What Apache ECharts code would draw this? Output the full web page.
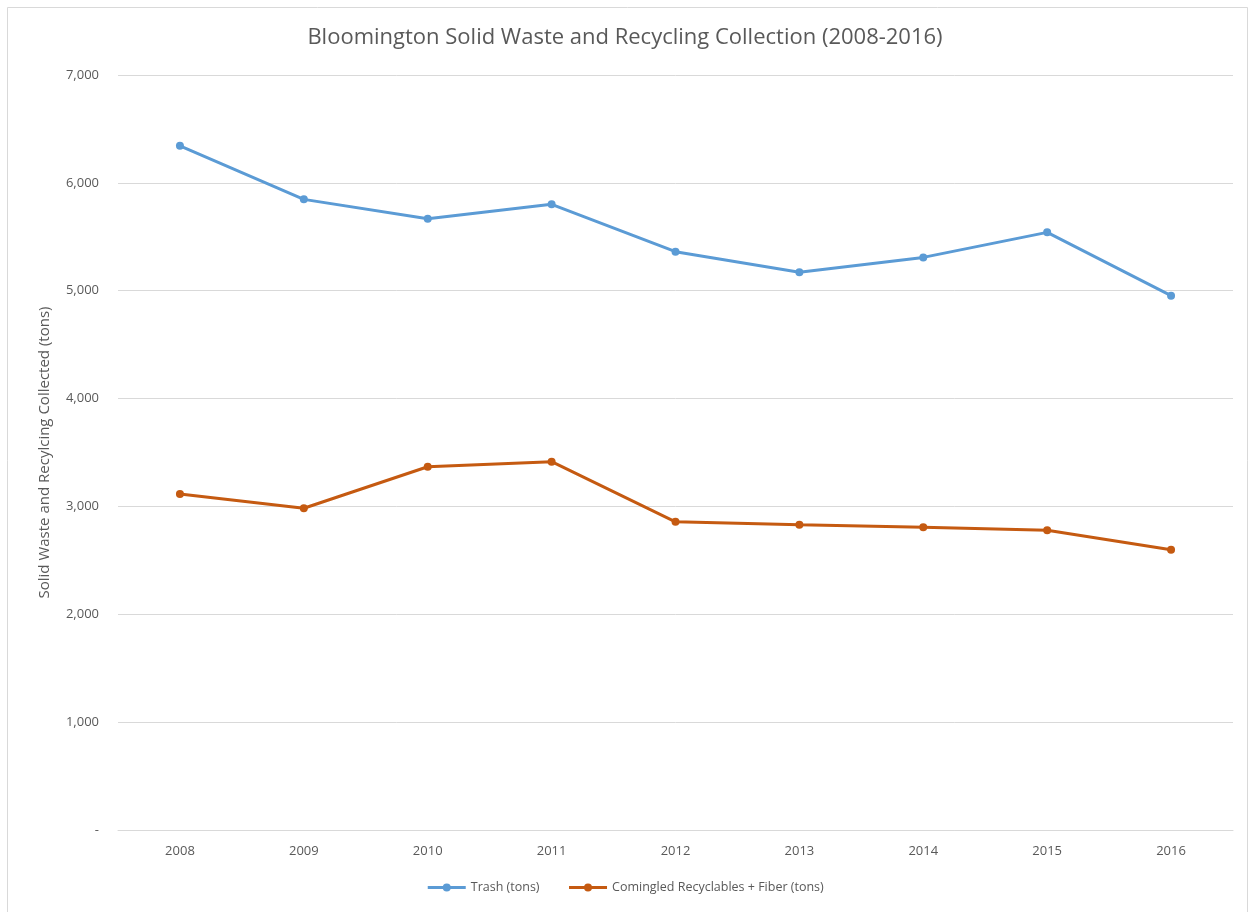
<!DOCTYPE html>
<html>
<head>
<meta charset="utf-8">
<script src="https://cdn.jsdelivr.net/npm/echarts@6/dist/echarts.min.js"></script>
<style>
  html, body { margin: 0; padding: 0; background: #ffffff; }
  #chart { width: 1250px; height: 912px; }
</style>
</head>
<body>
<div id="chart"></div>
<script>
// Annual collection totals, City of Bloomington
const years = ['2008', '2009', '2010', '2011', '2012', '2013', '2014', '2015', '2016'];
const trashTons = [6344, 5847, 5668, 5801, 5362, 5171, 5309, 5541, 4954];
const recyclingTons = [3115, 2983, 3368, 3415, 2857, 2831, 2806, 2779, 2599];
const seriesNames = ['Trash (tons)', 'Comingled Recyclables + Fiber (tons)'];

const textColor = '#595959';
const lineColor = '#d9d9d9';
const fontFamily = '"Open Sans", "Noto Sans", sans-serif';

const chart = echarts.init(document.getElementById('chart'), null, { renderer: 'canvas' });

function fmt(v) {
  if (v === 0) return '-';
  return v.toLocaleString('en-US');
}

chart.setOption({
  backgroundColor: '#ffffff',
  animation: false,
  textStyle: { fontFamily: fontFamily },
  graphic: [{
    type: 'rect',
    shape: { x: 7.5, y: 7.5, width: 1240, height: 920 },
    style: { fill: 'none', stroke: lineColor, lineWidth: 1 },
    silent: true
  }],
  title: {
    text: 'Bloomington Solid Waste and Recycling Collection (2008-2016)',
    left: 'center',
    top: 22,
    textStyle: { color: textColor, fontSize: 22, fontWeight: 'normal', fontFamily: fontFamily }
  },
  legend: {
    bottom: 13,
    left: 'center',
    itemWidth: 38,
    itemHeight: 10,
    itemGap: 28,
    lineStyle: { width: 3 },
    textStyle: { color: textColor, fontSize: 12.5, fontFamily: fontFamily },
    data: seriesNames
  },
  grid: { left: 118, right: 17, top: 75, bottom: 82 },
  xAxis: {
    type: 'category',
    data: years,
    boundaryGap: true,
    axisLine: { show: true, lineStyle: { color: lineColor } },
    axisTick: { show: false },
    axisLabel: { color: textColor, fontSize: 13, margin: 15 }
  },
  yAxis: {
    type: 'value',
    min: 0,
    max: 7000,
    interval: 1000,
    name: 'Solid Waste and Recylcing Collected (tons)',
    nameLocation: 'middle',
    nameGap: 66,
    nameTextStyle: { color: textColor, fontSize: 15 },
    axisLine: { show: false },
    axisTick: { show: false },
    axisLabel: { color: textColor, fontSize: 13, margin: 19, formatter: fmt },
    splitLine: { lineStyle: { color: lineColor, width: 1 } }
  },
  series: [
    {
      name: seriesNames[0],
      type: 'line',
      data: trashTons,
      symbol: 'circle',
      symbolSize: 8,
      lineStyle: { color: '#5b9bd5', width: 3 },
      itemStyle: { color: '#5b9bd5' }
    },
    {
      name: seriesNames[1],
      type: 'line',
      data: recyclingTons,
      symbol: 'circle',
      symbolSize: 8,
      lineStyle: { color: '#c55a11', width: 3 },
      itemStyle: { color: '#c55a11' }
    }
  ]
});
</script>
</body>
</html>
